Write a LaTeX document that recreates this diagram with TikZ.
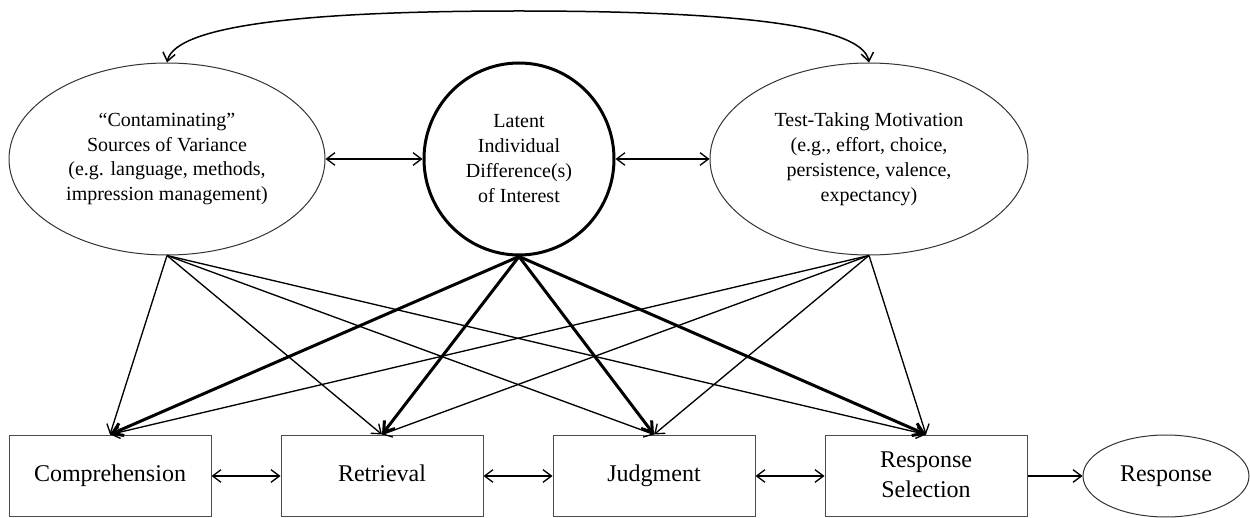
\documentclass[tikz,border=0pt]{standalone}
\usepackage{fontspec}
\setmainfont{Liberation Serif}
\usetikzlibrary{shapes.geometric,arrows.meta}
\begin{document}
\begin{tikzpicture}[x=0.6pt,y=-0.6pt,
 latentel/.style={ellipse,draw=black!80,line width=0.6pt,inner sep=0pt,align=center,font=\fontsize{12}{15}\selectfont},
 stagebox/.style={rectangle,draw=black!70,line width=0.6pt,minimum width=121.2pt,minimum height=49.2pt,inner sep=0pt,align=center,font=\fontsize{14.4}{18}\selectfont},
 thinarr/.style={line width=0.8pt,-{Straight Barb[length=5pt,width=7.5pt]}},
 thickarr/.style={line width=1.8pt,-{Straight Barb[length=6pt,width=8pt]}},
 dblarr/.style={line width=0.8pt,{Straight Barb[length=5pt,width=7.5pt]}-{Straight Barb[length=5pt,width=7.5pt]}}
]
\useasboundingbox (0,0) rectangle (1250,518);
\node[latentel,minimum width=189.6pt,minimum height=115.2pt] (C) at (167,159) {“Contaminating”\\Sources of Variance\\(e.g. language, methods,\\impression management)};
\node[latentel,draw=black,line width=1.8pt,minimum width=114pt,minimum height=115.2pt] (M) at (519,159) {Latent\\Individual\\Difference(s)\\of Interest};
\node[latentel,minimum width=190.8pt,minimum height=115.2pt] (R) at (869,159) {Test-Taking Motivation\\(e.g., effort, choice,\\persistence, valence,\\expectancy)};
\node[stagebox] (B1) at (110,476) {\strut Comprehension};
\node[stagebox] (B2) at (382,476) {\strut Retrieval};
\node[stagebox] (B3) at (654,476) {\strut Judgment};
\node[stagebox] (B4) at (926,476) {\strut Response\\\strut Selection};
\node[latentel,font=\fontsize{14.4}{18}\selectfont,minimum width=99.6pt,minimum height=49.2pt] (Resp) at (1166,476) {\strut Response};
\coordinate (peak) at (519,11);
\draw[dblarr,line width=0.9pt] (C.north) .. controls (176,22) and (330,11) .. (peak) .. controls (708,11) and (862,22) .. (R.north);
\draw[dblarr] (C.east) -- (M.west);
\draw[dblarr] (M.east) -- (R.west);
\foreach \b in {B1,B2,B3,B4}{
  \draw[thinarr] (C.south) -- (\b.north);
  \draw[thinarr] (R.south) -- (\b.north);
}
\foreach \b in {B1,B2,B3,B4}{
  \draw[thickarr] (M.south) -- (\b.north);
}
\draw[dblarr] (B1.east) -- (B2.west);
\draw[dblarr] (B2.east) -- (B3.west);
\draw[dblarr] (B3.east) -- (B4.west);
\draw[thinarr] (B4.east) -- (Resp.west);
\end{tikzpicture}
\end{document}
